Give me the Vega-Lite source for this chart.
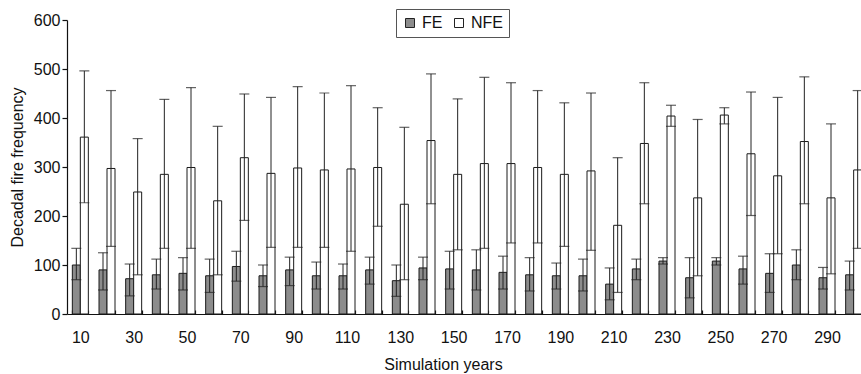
{
  "$schema": "https://vega.github.io/schema/vega-lite/v6.json",
  "autosize": "none",
  "width": 794,
  "height": 294,
  "padding": {"left": 67, "top": 20, "right": 0, "bottom": 60},
  "background": "white",
  "config": {
    "view": {"stroke": null},
    "font": "Liberation Sans",
    "axis": {"domainColor": "#111", "tickColor": "#111", "labelColor": "#111", "titleColor": "#111", "labelFont": "Liberation Sans", "titleFont": "Liberation Sans", "titleFontWeight": "normal", "labelFontSize": 16, "titleFontSize": 16, "grid": false, "domainWidth": 1.2, "tickWidth": 1.2}
  },
  "data": {"values": [
    {"year": 10, "series": "FE", "value": 100, "lo": 70, "hi": 134},
    {"year": 10, "series": "NFE", "value": 361, "lo": 227, "hi": 496},
    {"year": 20, "series": "FE", "value": 90, "lo": 49, "hi": 125},
    {"year": 20, "series": "NFE", "value": 297, "lo": 138, "hi": 456},
    {"year": 30, "series": "FE", "value": 72, "lo": 37, "hi": 102},
    {"year": 30, "series": "NFE", "value": 249, "lo": 80, "hi": 358},
    {"year": 40, "series": "FE", "value": 80, "lo": 51, "hi": 112},
    {"year": 40, "series": "NFE", "value": 285, "lo": 134, "hi": 438},
    {"year": 50, "series": "FE", "value": 83, "lo": 49, "hi": 115},
    {"year": 50, "series": "NFE", "value": 299, "lo": 134, "hi": 462},
    {"year": 60, "series": "FE", "value": 78, "lo": 44, "hi": 112},
    {"year": 60, "series": "NFE", "value": 231, "lo": 80, "hi": 383},
    {"year": 70, "series": "FE", "value": 97, "lo": 67, "hi": 128},
    {"year": 70, "series": "NFE", "value": 319, "lo": 191, "hi": 449},
    {"year": 80, "series": "FE", "value": 78, "lo": 56, "hi": 100},
    {"year": 80, "series": "NFE", "value": 287, "lo": 136, "hi": 442},
    {"year": 90, "series": "FE", "value": 90, "lo": 58, "hi": 116},
    {"year": 90, "series": "NFE", "value": 298, "lo": 136, "hi": 464},
    {"year": 100, "series": "FE", "value": 78, "lo": 51, "hi": 106},
    {"year": 100, "series": "NFE", "value": 294, "lo": 136, "hi": 451},
    {"year": 110, "series": "FE", "value": 78, "lo": 51, "hi": 102},
    {"year": 110, "series": "NFE", "value": 296, "lo": 128, "hi": 466},
    {"year": 120, "series": "FE", "value": 90, "lo": 61, "hi": 116},
    {"year": 120, "series": "NFE", "value": 299, "lo": 179, "hi": 421},
    {"year": 130, "series": "FE", "value": 68, "lo": 36, "hi": 100},
    {"year": 130, "series": "NFE", "value": 224, "lo": 70, "hi": 381},
    {"year": 140, "series": "FE", "value": 94, "lo": 70, "hi": 116},
    {"year": 140, "series": "NFE", "value": 354, "lo": 225, "hi": 490},
    {"year": 150, "series": "FE", "value": 92, "lo": 51, "hi": 128},
    {"year": 150, "series": "NFE", "value": 285, "lo": 131, "hi": 439},
    {"year": 160, "series": "FE", "value": 90, "lo": 49, "hi": 131},
    {"year": 160, "series": "NFE", "value": 307, "lo": 134, "hi": 483},
    {"year": 170, "series": "FE", "value": 85, "lo": 51, "hi": 118},
    {"year": 170, "series": "NFE", "value": 307, "lo": 145, "hi": 472},
    {"year": 180, "series": "FE", "value": 80, "lo": 47, "hi": 115},
    {"year": 180, "series": "NFE", "value": 299, "lo": 145, "hi": 456},
    {"year": 190, "series": "FE", "value": 78, "lo": 51, "hi": 104},
    {"year": 190, "series": "NFE", "value": 285, "lo": 138, "hi": 431},
    {"year": 200, "series": "FE", "value": 78, "lo": 47, "hi": 112},
    {"year": 200, "series": "NFE", "value": 292, "lo": 130, "hi": 451},
    {"year": 210, "series": "FE", "value": 61, "lo": 29, "hi": 94},
    {"year": 210, "series": "NFE", "value": 181, "lo": 44, "hi": 319},
    {"year": 220, "series": "FE", "value": 92, "lo": 70, "hi": 112},
    {"year": 220, "series": "NFE", "value": 348, "lo": 225, "hi": 472},
    {"year": 230, "series": "FE", "value": 108, "lo": 102, "hi": 115},
    {"year": 230, "series": "NFE", "value": 404, "lo": 383, "hi": 426},
    {"year": 240, "series": "FE", "value": 74, "lo": 33, "hi": 115},
    {"year": 240, "series": "NFE", "value": 237, "lo": 78, "hi": 397},
    {"year": 250, "series": "FE", "value": 108, "lo": 100, "hi": 115},
    {"year": 250, "series": "NFE", "value": 406, "lo": 388, "hi": 421},
    {"year": 260, "series": "FE", "value": 92, "lo": 61, "hi": 118},
    {"year": 260, "series": "NFE", "value": 327, "lo": 201, "hi": 453},
    {"year": 270, "series": "FE", "value": 83, "lo": 44, "hi": 123},
    {"year": 270, "series": "NFE", "value": 282, "lo": 123, "hi": 442},
    {"year": 280, "series": "FE", "value": 100, "lo": 70, "hi": 131},
    {"year": 280, "series": "NFE", "value": 352, "lo": 225, "hi": 484},
    {"year": 290, "series": "FE", "value": 74, "lo": 51, "hi": 95},
    {"year": 290, "series": "NFE", "value": 237, "lo": 82, "hi": 388},
    {"year": 300, "series": "FE", "value": 80, "lo": 49, "hi": 108},
    {"year": 300, "series": "NFE", "value": 294, "lo": 134, "hi": 456}
  ]},
  "encoding": {
    "x": {
      "field": "year", "type": "ordinal",
      "scale": {"paddingInner": 0.4, "paddingOuter": 0.2, "range": [0, 800]},
      "axis": {
        "title": "Simulation years", "labelAngle": 0, "tickBand": "extent", "tickSize": -4,
        "labelPadding": 19,
        "titleX": 376, "titleY": 55, "titleAlign": "center", "titleBaseline": "alphabetic", "titleAnchor": null,
        "labelExpr": "datum.value % 20 == 10 ? datum.label : ''"
      }
    },
    "xOffset": {"field": "series", "type": "nominal", "scale": {"domain": ["FE", "NFE"], "paddingInner": 0, "paddingOuter": 0}}
  },
  "layer": [
    {
      "mark": {"type": "bar", "stroke": "#1a1a1a", "strokeWidth": 1},
      "encoding": {
        "y": {
          "field": "value", "type": "quantitative",
          "scale": {"domain": [0, 600], "nice": false},
          "axis": {"title": "Decadal fire frequency", "values": [0, 100, 200, 300, 400, 500, 600], "tickSize": 5, "labelPadding": 2, "titlePadding": 8}
        },
        "color": {
          "field": "series", "type": "nominal",
          "scale": {"domain": ["FE", "NFE"], "range": ["#8c8c8c", "#ffffff"]},
          "legend": {
            "title": null, "orient": "none", "legendX": 329, "legendY": -11, "direction": "horizontal",
            "strokeColor": "#555", "fillColor": "white", "padding": 6,
            "symbolType": "square", "symbolSize": 81, "symbolStrokeColor": "#222", "symbolStrokeWidth": 1,
            "labelFontSize": 16, "labelFont": "Liberation Sans", "labelColor": "#111", "labelOffset": 4, "columnPadding": 8
          }
        }
      }
    },
    {
      "mark": {"type": "rule", "color": "#222", "strokeWidth": 1},
      "encoding": {
        "y": {"field": "lo", "type": "quantitative"},
        "y2": {"field": "hi"}
      }
    },
    {
      "mark": {"type": "tick", "color": "#222", "size": 10, "thickness": 1.2},
      "encoding": {"y": {"field": "lo", "type": "quantitative"}}
    },
    {
      "mark": {"type": "tick", "color": "#222", "size": 10, "thickness": 1.2},
      "encoding": {"y": {"field": "hi", "type": "quantitative"}}
    }
  ]
}
